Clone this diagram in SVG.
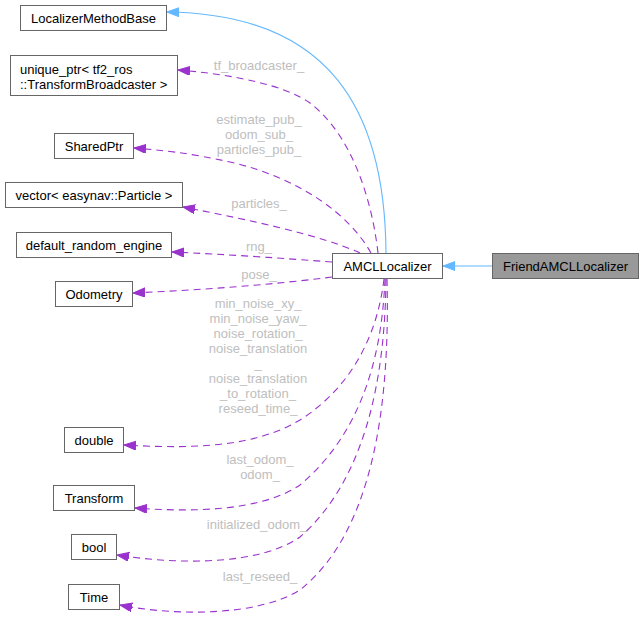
<svg xmlns="http://www.w3.org/2000/svg" width="644" height="621" viewBox="0 0 644 621">
<style>
  .node rect { fill: #ffffff; stroke: #666666; stroke-width: 1; }
  .node text { font-family: "Liberation Sans", Arial, Helvetica, sans-serif; font-size: 13px; fill: #000000; text-anchor: middle; }
  #n_friend rect { fill: #999999; }
  .edge { fill: none; stroke-width: 1.1; }
  .inh { stroke: #63b8ff; }
  .use { stroke: #9a32cd; stroke-dasharray: 7,5; }
  .lbl { font-family: "Liberation Sans", Arial, Helvetica, sans-serif; font-size: 13px; fill: #bebebe; text-anchor: middle; }
</style>
<defs>
  <marker id="arrB" markerUnits="userSpaceOnUse" markerWidth="13" markerHeight="10" refX="12" refY="4.5" orient="auto">
    <path d="M0,0 L12,4.5 L0,9 z" fill="#63b8ff" stroke="#63b8ff" stroke-width="1"/>
  </marker>
  <marker id="arrP" markerUnits="userSpaceOnUse" markerWidth="13" markerHeight="10" refX="12" refY="4.5" orient="auto">
    <path d="M0,0 L12,4.5 L0,9 z" fill="#9a32cd" stroke="#9a32cd" stroke-width="1"/>
  </marker>
</defs>
<rect width="644" height="621" fill="#ffffff"/>

<g id="edges">
  <path class="edge inh" d="M492,266 L443,266" marker-end="url(#arrB)"/>
  <path class="edge inh" d="M386,253 C385,110 330,14 167,12" marker-end="url(#arrB)"/>
  <path class="edge use" d="M378,253 C372,200 352,135 310,103 C285,85 230,74 178,70" marker-end="url(#arrP)"/>
  <path class="edge use" d="M371,253 C350,215 300,178 230,162 C190,153 160,150 134,148" marker-end="url(#arrP)"/>
  <path class="edge use" d="M360,253 C320,235 250,220 183,207" marker-end="url(#arrP)"/>
  <path class="edge use" d="M332,262 C280,258 220,254 172,252" marker-end="url(#arrP)"/>
  <path class="edge use" d="M332,277 C270,285 200,290 133,293" marker-end="url(#arrP)"/>
  <path class="edge use" d="M384,279 C378,330 355,385 300,420 C250,450 180,448 124,445" marker-end="url(#arrP)"/>
  <path class="edge use" d="M385,279 C382,350 365,430 300,485 C260,512 190,512 135,508" marker-end="url(#arrP)"/>
  <path class="edge use" d="M386,279 C385,380 365,480 300,537 C260,565 180,565 117,555" marker-end="url(#arrP)"/>
  <path class="edge use" d="M387,279 C390,400 375,530 300,590 C260,615 180,617 120,605" marker-end="url(#arrP)"/>

  <text class="lbl" x="259" y="70">tf_broadcaster_</text>
  <text class="lbl" x="259" y="124">estimate_pub_</text>
  <text class="lbl" x="259" y="139">odom_sub_</text>
  <text class="lbl" x="259" y="154">particles_pub_</text>
  <text class="lbl" x="259" y="208">particles_</text>
  <text class="lbl" x="259" y="251">rng_</text>
  <text class="lbl" x="259" y="279">pose_</text>
  <text class="lbl" x="258" y="308">min_noise_xy_</text>
  <text class="lbl" x="258" y="323">min_noise_yaw_</text>
  <text class="lbl" x="258" y="338">noise_rotation_</text>
  <text class="lbl" x="258" y="353">noise_translation</text>
  <text class="lbl" x="258" y="368">_</text>
  <text class="lbl" x="258" y="383">noise_translation</text>
  <text class="lbl" x="258" y="398">_to_rotation_</text>
  <text class="lbl" x="258" y="413">reseed_time_</text>
  <text class="lbl" x="260" y="464">last_odom_</text>
  <text class="lbl" x="260" y="479">odom_</text>
  <text class="lbl" x="257" y="529">initialized_odom_</text>
  <text class="lbl" x="260" y="581">last_reseed_</text>
</g>

<g id="n_amcl" class="node">
  <rect x="332.5" y="253.5" width="110" height="25"/>
  <text x="387.5" y="270.5">AMCLLocalizer</text>
</g>
<g id="n_friend" class="node">
  <rect x="492.5" y="253.5" width="146" height="25"/>
  <text x="565.5" y="270.5">FriendAMCLLocalizer</text>
</g>
<g id="n_base" class="node">
  <rect x="20.5" y="5.5" width="146" height="25"/>
  <text x="93.5" y="22.5">LocalizerMethodBase</text>
</g>
<g id="n_uptr" class="node">
  <rect x="10.5" y="55.5" width="167" height="40"/>
  <text x="20" y="74" style="text-anchor:start">unique_ptr&lt; tf2_ros</text>
  <text x="20" y="89" style="text-anchor:start">::TransformBroadcaster &gt;</text>
</g>
<g id="n_shared" class="node">
  <rect x="54.5" y="133.5" width="79" height="25"/>
  <text x="94" y="150.5">SharedPtr</text>
</g>
<g id="n_vector" class="node">
  <rect x="5.5" y="182.5" width="177" height="25"/>
  <text x="94" y="199.5">vector&lt; easynav::Particle &gt;</text>
</g>
<g id="n_rng" class="node">
  <rect x="16.5" y="232.5" width="155" height="25"/>
  <text x="94" y="249.5">default_random_engine</text>
</g>
<g id="n_odom" class="node">
  <rect x="55.5" y="281.5" width="77" height="25"/>
  <text x="94" y="298.5">Odometry</text>
</g>
<g id="n_double" class="node">
  <rect x="64.5" y="427.5" width="59" height="25"/>
  <text x="94" y="444.5">double</text>
</g>
<g id="n_transform" class="node">
  <rect x="53.5" y="485.5" width="81" height="25"/>
  <text x="94" y="502.5">Transform</text>
</g>
<g id="n_bool" class="node">
  <rect x="71.5" y="534.5" width="45" height="25"/>
  <text x="94" y="551.5">bool</text>
</g>
<g id="n_time" class="node">
  <rect x="68.5" y="584.5" width="51" height="25"/>
  <text x="94" y="601.5">Time</text>
</g>
</svg>
